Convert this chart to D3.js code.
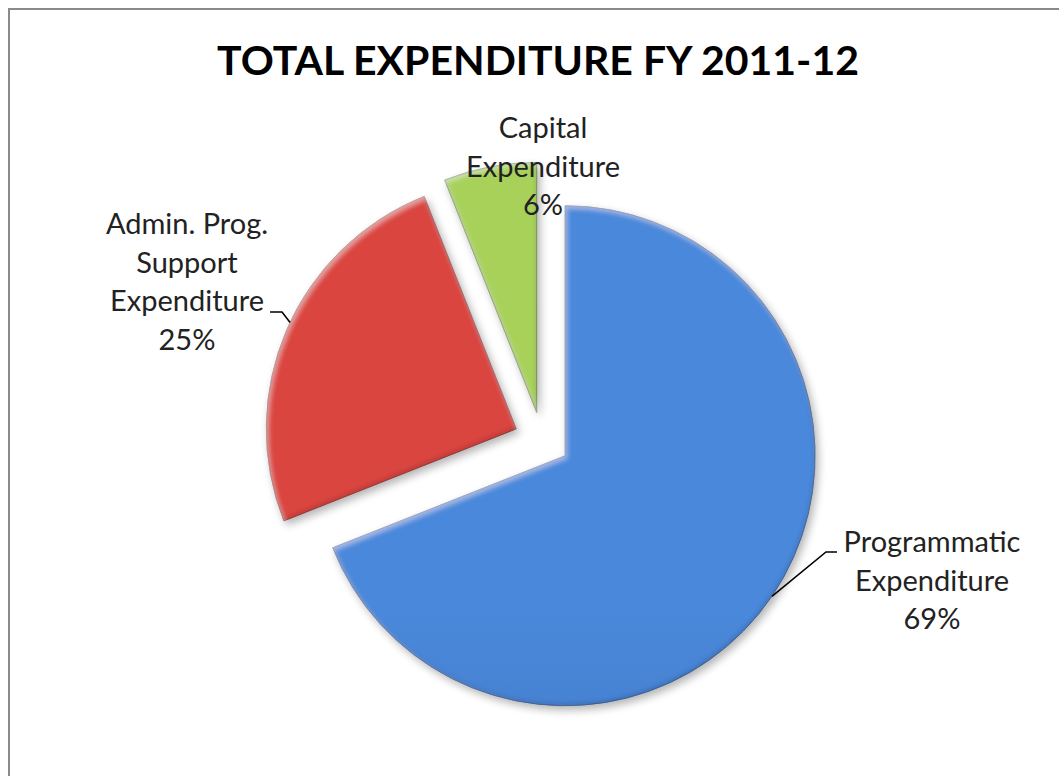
<!DOCTYPE html>
<html>
<head>
<meta charset="utf-8">
<script src="https://cdn.jsdelivr.net/npm/d3@7"></script>
<style>
  body { margin: 0; background: #fff; }
  text { font-family: Lato, "Open Sans", sans-serif; fill: #222; }
</style>
</head>
<body>
<svg id="chart" width="1059" height="776"></svg>
<script>
const categories = ["Programmatic Expenditure", "Admin. Prog. Support Expenditure", "Capital Expenditure"];
const labelLines = [["Programmatic", "Expenditure"], ["Admin. Prog.", "Support", "Expenditure"], ["Capital", "Expenditure"]];
const shares = [69, 25, 6];
const title = "TOTAL EXPENDITURE FY 2011-12";

// look
const colorsTop = ["#4a88da", "#da4440", "#a8d15a"];
const colorsBottom = ["#3463aa", "#b33331", "#88b23e"];
const edgeColors = ["#2c5591", "#8e2826", "#5f7f28"];

const cx = 542, cy = 440, R = 250, explode = 28;

// label placement: text centre x, first baseline y, leader anchor (fraction of slice), elbow + end
const labelLayout = [
  {x: 932, y: 552, at: 0.5, elbow: [826, 552], end: [837, 552]},
  {x: 187, y: 234, at: 0.52, elbow: [282, 312], end: [270, 312]},
  {x: 543, y: 138, at: 0.5, elbow: null, end: null}
];
const lineGap = 38.5;

const svg = d3.select("#chart");
const defs = svg.append("defs");

// frame (only top/left edges visible in the reference)
svg.append("rect")
  .attr("x", 9).attr("y", 9)
  .attr("width", 2000).attr("height", 2000)
  .attr("fill", "none")
  .attr("stroke", "#8a8a8a")
  .attr("stroke-width", 2);

svg.append("text")
  .attr("x", 538).attr("y", 75)
  .attr("text-anchor", "middle")
  .attr("font-size", 41)
  .attr("font-weight", "bold")
  .style("fill", "#000")
  .text(title);

shares.forEach((v, i) => {
  const g = defs.append("linearGradient")
    .attr("id", "grad" + i)
    .attr("gradientUnits", "userSpaceOnUse")
    .attr("x1", 0).attr("y1", cy - R - 30)
    .attr("x2", 0).attr("y2", cy + R + 30);
  g.append("stop").attr("offset", "0%").attr("stop-color", colorsTop[i]);
  g.append("stop").attr("offset", "100%").attr("stop-color", colorsBottom[i]);
});

// bevel + drop shadow
const f = defs.append("filter").attr("id", "bevel")
  .attr("x", "-20%").attr("y", "-20%").attr("width", "140%").attr("height", "140%");
f.append("feGaussianBlur").attr("in", "SourceAlpha").attr("stdDeviation", 4).attr("result", "sb");
f.append("feOffset").attr("in", "sb").attr("dx", 3).attr("dy", 4).attr("result", "so");
f.append("feComponentTransfer").attr("in", "so").attr("result", "shadow")
  .append("feFuncA").attr("type", "linear").attr("slope", 0.3);
// inner dark edge
f.append("feFlood").attr("flood-color", "#000").attr("result", "black");
f.append("feComposite").attr("in", "black").attr("in2", "SourceAlpha").attr("operator", "out").attr("result", "inv");
f.append("feGaussianBlur").attr("in", "inv").attr("stdDeviation", 2.5).attr("result", "invb");
f.append("feOffset").attr("in", "invb").attr("dx", -1.5).attr("dy", -2).attr("result", "invo");
f.append("feComposite").attr("in", "invo").attr("in2", "SourceAlpha").attr("operator", "in").attr("result", "innerDark0");
f.append("feComponentTransfer").attr("in", "innerDark0").attr("result", "innerDark")
  .append("feFuncA").attr("type", "linear").attr("slope", 0.35);
// inner highlight
f.append("feFlood").attr("flood-color", "#fff").attr("result", "white");
f.append("feComposite").attr("in", "white").attr("in2", "SourceAlpha").attr("operator", "out").attr("result", "invw");
f.append("feGaussianBlur").attr("in", "invw").attr("stdDeviation", 2.5).attr("result", "invwb");
f.append("feOffset").attr("in", "invwb").attr("dx", 1.5).attr("dy", 2.5).attr("result", "invwo");
f.append("feComposite").attr("in", "invwo").attr("in2", "SourceAlpha").attr("operator", "in").attr("result", "innerLight0");
f.append("feComponentTransfer").attr("in", "innerLight0").attr("result", "innerLight")
  .append("feFuncA").attr("type", "linear").attr("slope", 0.35);
const m = f.append("feMerge");
m.append("feMergeNode").attr("in", "shadow");
m.append("feMergeNode").attr("in", "SourceGraphic");
m.append("feMergeNode").attr("in", "innerDark");
m.append("feMergeNode").attr("in", "innerLight");

const pie = d3.pie().sort(null).value(d => d)(shares);
const arc = d3.arc().innerRadius(0).outerRadius(R);

const slices = svg.append("g").attr("transform", `translate(${cx},${cy})`);

function shift(d) {
  const a = (d.startAngle + d.endAngle) / 2;
  return [Math.sin(a) * explode, -Math.cos(a) * explode];
}

slices.selectAll("path")
  .data(pie)
  .enter().append("path")
  .attr("d", arc)
  .attr("transform", d => { const s = shift(d); return `translate(${s[0]},${s[1]})`; })
  .attr("fill", (d, i) => `url(#grad${i})`)
  .attr("stroke", (d, i) => edgeColors[i])
  .attr("stroke-width", 0.8)
  .attr("stroke-linejoin", "round")
  .attr("filter", "url(#bevel)");

// leader lines
pie.forEach((d, i) => {
  const L = labelLayout[i];
  if (!L.elbow) return;
  const a = d.startAngle + (d.endAngle - d.startAngle) * L.at;
  const s = shift(d);
  const p0 = [cx + s[0] + Math.sin(a) * R, cy + s[1] - Math.cos(a) * R];
  svg.append("path")
    .attr("d", d3.line()([p0, L.elbow, L.end]))
    .attr("fill", "none")
    .attr("stroke", "#000")
    .attr("stroke-width", 1.6);
});

// labels
pie.forEach((d, i) => {
  const L = labelLayout[i];
  const lines = labelLines[i].concat([Math.round(d.value) + "%"]);
  const t = svg.append("text")
    .attr("text-anchor", "middle")
    .attr("font-size", 29)
    .attr("aria-label", categories[i]);
  lines.forEach((ln, k) => {
    t.append("tspan").attr("x", L.x).attr("y", L.y + k * lineGap).text(ln);
  });
});
</script>
</body>
</html>
